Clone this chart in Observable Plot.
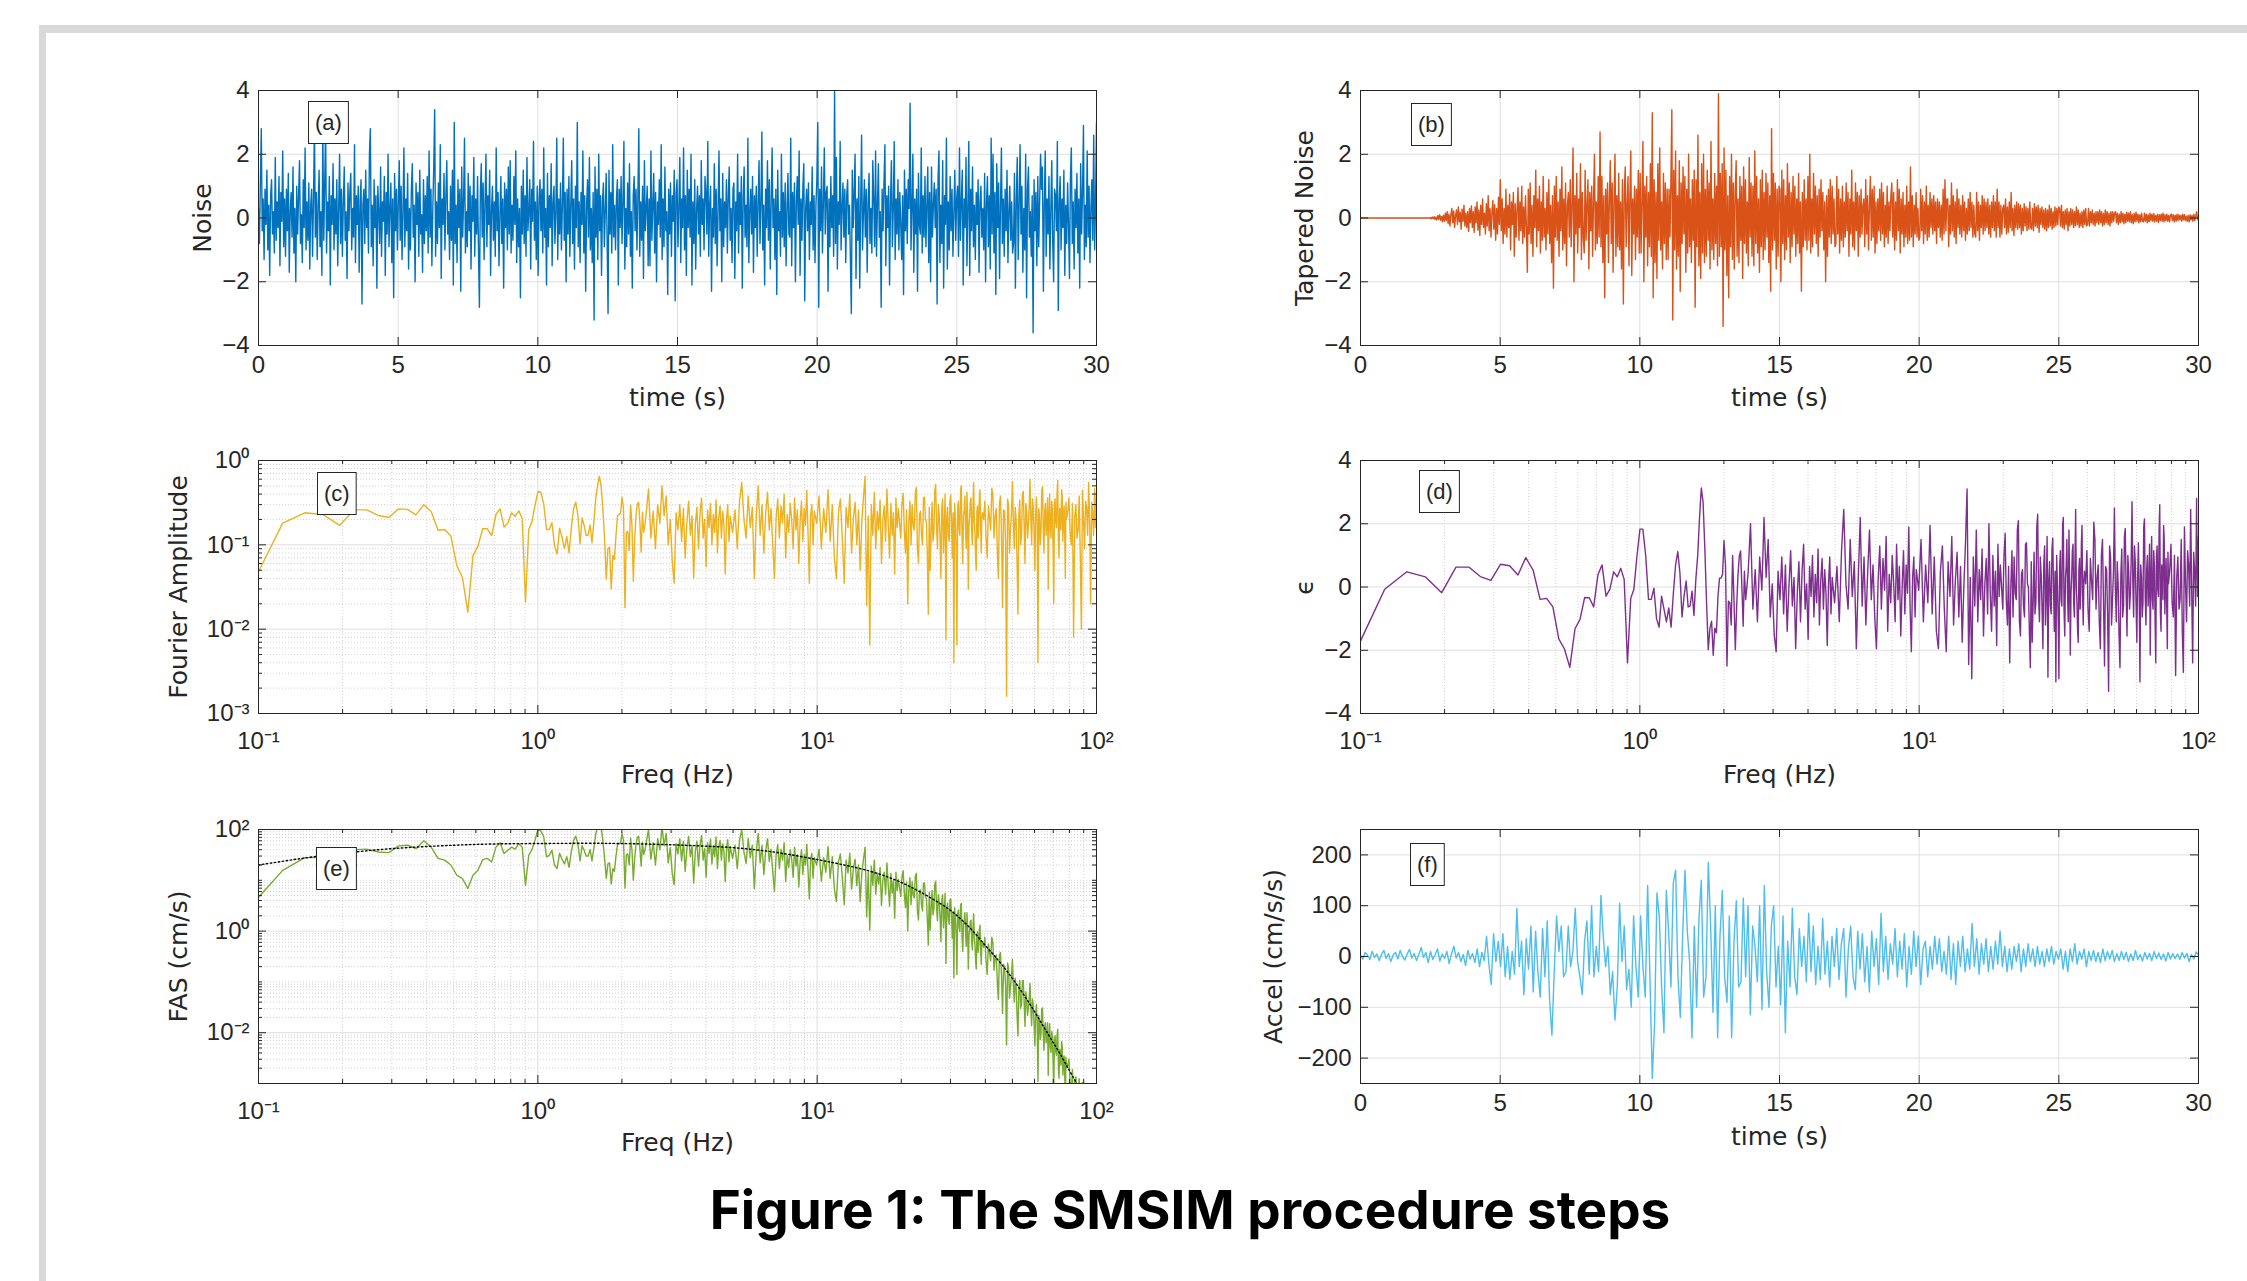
<!DOCTYPE html>
<html><head><meta charset="utf-8">
<script src="https://cdn.jsdelivr.net/npm/d3@7"></script>
<script src="https://cdn.jsdelivr.net/npm/@observablehq/plot@0.6"></script>
<style>
html,body{margin:0;padding:0;background:#fff}
body{width:2247px;height:1281px;overflow:hidden;position:relative;font-family:"Liberation Sans",Arial,sans-serif}
#border{position:absolute;left:39px;top:25px;width:2400px;height:1400px;border-top:8px solid #d9d9d9;border-left:7px solid #d9d9d9;box-sizing:border-box}
.panel{position:absolute}
#title{position:absolute;left:0;width:2380px;top:1184px;text-align:center;font-family:Inter,"Noto Sans",sans-serif;font-weight:700;font-size:53px;line-height:53px;color:#000;white-space:nowrap}
</style></head><body>
<div id="border"></div>
<div id="pa" class="panel"></div><div id="pb" class="panel"></div>
<div id="pc" class="panel"></div><div id="pd" class="panel"></div>
<div id="pe" class="panel"></div><div id="pf" class="panel"></div>
<div id="title">Figure 1: The SMSIM procedure steps</div>
<script>
// ---------------- DATA ----------------
const TIME_TICKS = [0,5,10,15,20,25,30];
const NOISE_TICKS = [-4,-2,0,2,4];
const FREQ_TICKS = [0.1,1,10,100];
const FAS_C_TICKS = [0.001,0.01,0.1,1];
const EPS_TICKS = [-4,-2,0,2,4];
const FAS_E_TICKS = [0.01,1,100];
const ACC_TICKS = [-200,-100,0,100,200];

// (a) white noise, 30 s (one row per second)
const NOISE = [
0.3,-0.8,1.1,2.8,-0.4,0.6,-1.3,0.9,-0.2,1.5,-1.0,0.4,-1.8,0.7,1.2,-0.5,0.2,-1.1,1.9,-0.7,0.5,-0.3,1.3,-1.5,0.8,-0.1,2.1,-0.9,0.6,-1.2,
0.9,-0.4,1.4,-1.7,0.2,0.8,-0.6,1.6,-1.1,0.3,-2.0,1.0,-0.5,0.7,1.8,-0.8,0.1,-1.4,1.2,-0.3,2.2,-1.0,0.5,-0.7,1.1,-1.6,0.4,0.9,-1.2,0.6,
2.9,-0.6,0.8,-1.3,0.4,1.5,-0.9,0.2,-1.8,2.9,-0.7,1.0,2.8,-1.1,0.5,-0.4,1.3,-2.1,0.7,-0.2,1.7,-1.0,0.6,-0.5,1.2,-1.5,0.3,2.0,-0.8,0.9,
-1.2,0.5,1.6,-0.7,0.2,-1.9,1.1,-0.4,0.8,1.4,-1.0,0.3,-0.6,2.3,-1.4,0.7,-0.2,1.0,-1.7,0.5,1.2,-2.7,0.4,0.9,-0.8,1.5,-0.3,0.6,-1.1,2.0,
2.8,-0.9,0.4,-1.5,1.2,-0.3,0.7,-2.2,1.0,0.2,-0.8,1.6,-1.2,0.5,-0.1,1.3,-1.8,0.8,-0.5,2.0,-0.9,0.3,1.1,-1.4,0.6,-2.5,1.4,-0.4,0.9,-1.0,
0.5,1.8,-0.7,1.0,-1.3,0.2,2.2,-0.9,0.6,-0.4,1.4,-1.6,0.3,-1.0,0.9,1.7,-0.6,0.4,-2.0,1.1,-0.2,0.8,-1.2,1.5,-0.5,0.1,-1.7,1.2,-0.8,0.7,
-0.4,1.3,-1.1,2.1,-0.6,0.9,-1.5,0.3,1.6,3.4,-1.2,0.5,-0.8,1.1,-0.3,2.3,-1.9,0.6,-0.2,1.4,-1.0,0.7,1.8,-0.5,0.2,-1.3,1.0,-0.7,1.5,-2.1,
3.0,-0.8,0.4,-1.4,1.2,-0.3,0.9,-2.3,1.6,-0.6,0.5,2.5,-1.1,0.2,-0.9,1.4,-0.4,1.0,-1.6,0.7,-0.1,1.9,-1.2,0.6,-0.5,1.3,-1.0,-2.8,0.8,1.7,
-0.6,1.1,-1.3,0.4,2.0,-0.9,0.7,-0.2,1.5,-1.8,0.3,1.0,-0.7,0.5,-1.2,2.2,-0.4,0.8,-1.5,0.1,1.3,-0.8,0.6,-2.2,1.1,-0.3,0.9,-1.0,1.6,-0.5,
1.8,-1.1,0.4,-0.7,1.3,-0.2,2.1,-1.4,0.6,-0.9,0.3,-2.5,1.0,-0.5,1.5,-0.8,0.7,-1.2,1.9,-0.4,0.2,1.2,-1.6,0.9,-0.1,2.4,-0.7,0.5,-1.3,1.0,
-1.8,0.6,1.2,-0.4,0.9,-1.1,2.2,-0.6,0.3,-2.1,1.4,-0.9,0.7,-0.3,1.7,-1.5,0.5,1.0,-0.8,0.2,2.5,-1.3,0.6,-0.5,1.1,-1.0,0.4,2.5,-0.7,0.8,
-2.0,0.9,-0.5,1.3,-1.2,0.4,1.8,-0.8,0.6,-1.6,1.0,-0.3,3.0,-0.9,0.5,-1.4,0.8,-0.2,2.1,-1.1,0.7,-2.3,0.4,1.2,-0.6,1.9,-1.0,0.3,-1.4,0.8,
-3.2,1.6,-0.6,0.9,-1.3,2.0,-0.4,0.7,-1.8,0.5,1.1,-0.9,0.2,1.4,-0.7,-3.0,1.5,-0.5,0.8,-1.1,2.3,-0.6,0.4,-1.0,0.6,1.2,-2.1,0.9,-0.3,1.3,
-0.8,0.5,2.4,-1.6,0.3,-0.9,1.1,-0.5,1.7,-1.2,0.2,-2.2,0.7,1.3,-0.4,0.9,-1.0,0.6,2.8,-1.2,0.5,-0.7,1.0,-1.9,1.8,-0.4,0.3,1.0,-1.5,0.6,
-1.5,2.1,-0.7,0.4,1.4,-1.1,0.8,-2.0,0.5,-0.2,1.2,-0.6,2.3,-1.3,0.6,-0.9,1.6,-0.4,0.2,-2.4,0.9,-0.5,1.1,-1.2,0.7,-0.1,1.5,-2.6,0.8,1.2,
-0.9,0.4,1.9,-1.4,0.6,-0.3,2.2,-1.0,0.7,-1.8,1.5,-0.3,0.9,-0.6,2.0,-2.1,0.5,-0.8,1.2,-1.6,0.3,1.0,-0.5,0.7,-1.2,1.8,-0.2,0.6,-1.0,1.3,
0.8,-0.5,2.4,-1.2,0.4,1.0,-2.3,0.3,-0.6,1.7,-0.8,0.9,-1.5,0.2,2.1,-0.4,0.6,-2.0,1.4,-0.9,0.5,-0.3,1.2,-1.1,0.7,1.6,-0.7,0.3,-1.4,0.9,
1.1,-1.9,0.5,-0.4,2.0,-1.1,0.8,-0.2,1.3,-2.2,0.6,1.6,-0.6,0.4,-0.9,2.5,-1.4,0.2,0.9,-0.5,1.3,-1.7,0.7,-0.3,1.0,-1.2,0.5,1.8,-0.8,0.4,
2.7,-1.0,0.4,-2.1,0.9,-0.3,1.8,-0.7,1.2,-1.6,0.5,2.2,-0.3,0.6,-1.3,0.9,-2.4,1.5,-0.4,0.2,-1.2,2.0,-0.6,0.8,-0.9,1.1,-1.5,0.3,1.4,-0.5,
-0.6,2.5,-1.5,0.8,-0.3,1.1,-2.0,0.5,1.3,-0.2,2.1,-1.8,0.6,-0.7,1.0,1.7,-2.6,0.3,0.9,-0.4,1.1,-1.3,0.5,-0.2,1.6,-1.0,0.7,-1.4,0.4,1.2,
3.0,-2.8,0.9,-0.4,1.6,-1.1,0.5,2.2,-0.5,0.8,1.0,-2.3,0.6,-0.9,1.3,-0.3,0.7,-1.2,4.0,-0.8,1.9,-1.6,0.5,-0.2,2.4,-1.0,0.3,1.1,-0.6,0.9,
-1.4,0.7,1.2,-0.5,0.4,-1.3,-3.0,1.5,-0.3,0.8,2.0,-1.9,0.6,-0.7,1.3,-2.2,0.4,2.6,-1.0,0.2,1.2,-0.6,0.9,-1.7,0.5,1.4,-0.8,0.3,-1.1,1.8,
0.6,-0.9,2.1,-1.2,0.4,1.7,-0.6,0.2,-2.8,0.9,-0.4,1.1,2.3,-1.5,0.7,-0.3,1.0,-2.1,0.5,1.8,-0.9,0.3,2.4,-1.3,0.6,-0.5,1.2,-1.0,0.8,-0.2,
-1.3,0.7,-2.4,1.5,-0.4,0.9,-0.8,1.2,0.3,3.6,-1.0,0.3,2.0,-1.7,0.6,-0.5,0.9,-2.3,1.4,-0.2,-0.5,2.2,-1.1,0.7,-0.6,1.3,-0.9,0.4,1.6,-1.4,
0.8,-2.0,1.6,-0.6,0.4,1.1,-0.3,0.9,-2.7,1.2,2.1,-1.4,0.4,-0.8,1.8,-2.2,0.7,-0.2,2.5,-1.6,0.5,-1.0,1.3,-0.4,0.9,-1.2,0.2,1.5,-0.7,0.6,
1.0,-1.2,2.2,-0.7,0.5,1.5,-2.1,0.6,-0.3,1.9,-1.5,0.3,2.4,-1.8,0.9,-0.4,1.6,-0.9,0.4,-1.3,0.8,-0.2,1.2,-1.7,0.5,1.0,-0.6,0.3,-1.0,1.4,
-2.0,0.5,1.3,-0.9,0.7,-1.6,2.5,-0.5,2.0,-1.1,0.8,-2.4,1.7,-0.3,1.1,-1.9,0.4,2.2,-0.8,0.6,-1.2,0.9,-0.4,1.5,-1.4,0.2,1.0,-0.7,0.5,-1.1,
-0.8,1.4,-2.2,0.6,1.9,-1.3,0.4,2.3,-0.5,1.0,-1.7,0.3,-1.0,2.0,-2.5,0.9,1.6,-0.6,0.2,-1.2,0.7,-3.6,1.2,-0.4,0.8,-1.5,1.3,-0.9,0.5,2.0,
0.9,1.6,-2.3,0.4,2.1,-1.2,0.6,-0.5,1.3,-1.6,0.2,1.8,-0.7,-2.0,0.9,0.7,-0.4,2.4,-2.9,0.5,1.3,-1.0,0.6,-0.3,1.5,-1.8,0.4,-0.8,1.1,-0.2,
-1.9,1.2,2.2,-0.8,0.5,-1.6,0.9,-0.3,1.4,-1.1,0.6,-2.2,1.7,-0.5,0.8,2.9,-1.3,0.4,-0.9,2.1,-0.6,1.0,-1.4,0.3,1.2,-0.7,2.6,-1.0,0.5,3.0];

// (b) tapered noise, 30 s (one row per second)
const TAPERED = [
0,0,0,0,0,0,0,0,0,0,0,0,0,0,0,0,0,0,0,0,0,0,0,0,0,0,0,0,0,0,
0,0,0,0,0,0,0,0,0,0,0,0,0,0,0,0,0,0,0,0,0,0,0,0,0,0,0,0,0,0,
0,0,0,0,0,0,0,0,0,0,0,0,0,0,0,0.01,-0.02,0.03,-0.02,0.04,-0.05,0.03,-0.06,0.08,-0.04,0.1,-0.07,0.05,-0.12,0.09,
-0.1,0.15,-0.08,0.2,-0.18,0.12,-0.25,0.1,0.3,-0.15,0.22,-0.3,0.08,0.25,-0.2,0.35,-0.12,0.18,-0.35,0.28,-0.1,0.4,-0.25,0.15,-0.3,0.2,-0.42,0.3,-0.15,0.38,
-0.3,0.2,-0.45,0.35,-0.15,0.5,-0.38,0.25,-0.55,0.4,-0.2,0.6,-0.3,0.15,-0.5,0.45,-0.25,0.7,-0.4,0.3,-0.6,0.2,0.55,-0.35,0.42,-0.7,0.3,-0.5,0.65,-0.2,
1.2,-0.4,0.6,-0.8,0.3,-0.5,0.9,-0.6,0.4,-0.3,0.75,-1.0,0.5,-0.2,0.8,-1.2,0.45,-0.6,0.3,0.95,-0.7,0.5,-0.4,1.0,-0.8,0.35,-0.6,0.7,-0.3,-1.7,
0.9,-0.5,1.1,-0.8,0.4,-1.2,0.7,-0.3,1.5,-0.9,0.6,-0.4,1.0,-1.1,0.5,-0.7,1.3,-0.6,0.3,-1.0,0.8,-0.5,1.2,-0.8,0.4,-1.4,0.7,-2.2,1.0,-0.6,
1.3,-0.7,0.5,-1.2,0.9,-0.4,1.6,-1.0,0.6,-0.8,1.1,-1.5,0.4,0.8,-0.6,1.2,-0.9,0.5,2.2,-2.0,0.7,-0.5,1.4,-1.1,0.6,-0.3,1.7,-1.3,0.8,-0.6,
-1.1,1.5,-0.7,0.4,1.2,-1.6,0.8,-0.4,1.0,-1.2,0.6,2.0,-1.0,0.5,-0.8,1.3,-0.6,2.7,-0.9,1.3,-1.4,0.7,-2.5,0.9,-0.5,1.1,-1.4,0.6,1.8,-0.8,
1.1,-1.7,0.6,2.0,-1.2,0.7,-0.9,1.4,-1.0,0.5,-1.6,1.2,-2.7,0.8,1.6,-0.9,0.4,1.3,-1.5,0.7,2.1,-1.8,0.6,-0.5,1.0,-1.3,0.9,-0.6,1.5,-1.1,
1.4,-1.1,0.6,2.4,-2.0,1.0,-0.6,1.3,-1.5,0.8,-0.9,1.7,-1.2,3.3,-2.5,1.2,-1.4,0.8,-1.9,1.7,-0.7,2.2,-1.0,0.5,-1.6,1.4,-0.8,1.1,-1.3,0.9,
-1.3,0.9,-0.6,1.2,3.4,-3.2,1.5,-1.0,2.1,-1.6,0.7,-1.2,1.8,-2.3,1.1,-0.8,1.6,-0.5,1.3,-1.7,0.9,-1.1,2.0,-0.9,0.6,-1.4,1.2,-0.7,1.5,-2.8,
1.2,-0.9,2.6,-1.5,0.8,-1.9,1.7,-1.1,2.0,-1.4,0.9,-1.2,1.5,-0.7,1.1,-1.6,2.4,-1.0,0.6,-1.3,1.4,-0.8,1.0,-1.5,3.9,-1.2,1.4,-0.9,1.7,-3.4,
2.2,-1.0,1.5,-1.8,0.7,-2.5,1.3,-0.9,2.0,-1.3,1.1,-1.6,0.8,1.8,-1.2,0.6,-1.4,1.3,-0.7,1.0,-1.9,1.6,-0.8,1.2,-1.1,0.5,-1.5,1.9,-0.6,1.1,
-1.2,1.0,-1.5,2.1,-0.8,1.3,-1.1,0.6,-1.7,1.2,-0.9,1.5,-1.3,0.8,-1.0,1.4,-0.6,1.1,-1.4,0.7,-2.3,2.8,-1.0,1.4,-0.7,1.1,-1.6,0.9,-1.2,1.0,
0.9,-2.0,1.5,-0.8,1.2,-1.3,0.7,-1.0,1.7,-0.6,1.1,-1.4,0.8,-0.9,1.3,-0.5,1.0,-1.2,0.6,-0.8,1.4,-1.1,0.5,-2.3,0.8,-0.9,1.2,-0.7,0.6,-1.0,
1.3,-0.7,2.0,-1.1,0.6,-0.9,1.4,-0.5,1.0,-0.8,0.7,-1.2,0.9,-0.6,1.2,-0.4,0.8,-1.0,0.5,-2.0,0.7,-1.2,0.9,-0.6,1.2,-0.8,1.0,-0.5,0.6,-0.9,
-0.8,1.3,-0.5,0.9,-1.1,0.6,-0.7,1.0,-0.9,0.5,-0.6,1.1,-0.4,0.8,-1.2,0.6,-0.5,1.5,-0.9,0.5,-1.0,1.1,-0.4,0.8,-1.2,0.7,-0.6,0.9,-0.5,0.4,
0.6,-0.9,1.2,-0.5,0.7,-1.0,0.4,1.3,-0.7,0.9,-0.6,1.0,-1.1,0.5,-0.8,0.6,-0.4,0.9,-0.7,1.1,-0.5,0.8,-0.9,0.4,-0.6,1.0,-0.8,0.5,-0.4,0.7,
1.1,-0.6,0.8,-1.0,0.5,-0.7,1.2,-0.4,0.9,-1.1,0.6,-0.5,0.8,-0.9,0.4,-0.6,1.0,-0.8,0.5,-0.7,1.6,-0.6,0.7,-0.9,0.4,-0.5,0.8,-0.6,0.3,-0.7,
-0.6,0.9,-0.4,0.7,-0.8,0.5,-0.5,1.0,-0.7,0.4,-0.6,0.8,-0.3,0.6,-0.5,0.7,-0.4,0.5,-0.8,0.6,-0.3,0.5,-0.6,0.4,-0.7,0.9,-0.5,1.2,-0.4,0.6,
0.6,-0.9,0.4,-0.5,1.1,-0.4,0.7,-0.6,0.5,-0.8,0.9,-0.3,0.6,-0.5,0.4,-0.6,0.7,-0.4,0.5,-0.7,0.3,-0.5,0.6,-0.4,0.8,-0.3,0.5,-0.6,0.4,-0.5,
-0.6,0.8,-0.4,0.5,-0.7,0.4,-0.3,0.7,-0.5,0.6,-0.4,0.5,-0.3,0.6,-0.5,0.4,-0.6,0.5,-0.3,0.7,-0.4,0.5,-0.6,0.9,-0.3,0.5,-0.6,0.4,-0.5,0.3,
0.4,-0.3,0.6,-0.5,0.35,-0.45,0.5,-0.3,0.8,-0.4,0.3,-0.55,0.4,-0.3,0.5,-0.35,0.45,-0.3,0.4,-0.5,0.3,-0.4,0.45,-0.25,0.35,-0.4,0.3,-0.35,0.5,-0.3,
-0.35,0.3,-0.4,0.45,-0.25,0.35,-0.3,0.4,-0.45,0.3,-0.2,0.35,-0.3,0.25,-0.35,0.3,-0.4,0.25,-0.3,0.4,-0.25,0.3,-0.35,0.2,-0.3,0.35,-0.25,0.3,-0.2,0.35,
0.3,-0.25,0.4,-0.3,0.2,-0.35,0.25,-0.2,0.3,-0.4,0.2,-0.25,0.3,-0.2,0.25,-0.3,0.2,-0.25,0.35,-0.2,0.25,-0.3,0.15,-0.25,0.2,-0.3,0.25,-0.2,0.3,-0.25,
-0.2,0.3,-0.25,0.2,-0.15,0.25,-0.2,0.15,-0.25,0.2,-0.15,0.2,-0.2,0.25,-0.15,0.2,-0.25,0.15,-0.2,0.25,-0.15,0.2,-0.2,0.15,-0.25,0.2,-0.15,0.2,-0.1,0.15,
0.2,-0.15,0.15,-0.2,0.12,-0.15,0.2,-0.12,0.15,-0.18,0.12,-0.15,0.18,-0.1,0.15,-0.12,0.2,-0.15,0.1,-0.18,0.15,-0.12,0.18,-0.1,0.12,-0.15,0.1,-0.12,0.15,-0.1,
-0.12,0.15,-0.1,0.12,-0.15,0.1,-0.12,0.15,-0.08,0.12,-0.1,0.14,-0.12,0.08,-0.1,0.12,-0.14,0.1,-0.08,0.12,-0.1,0.15,-0.12,0.1,-0.08,0.12,-0.1,0.08,-0.12,0.1,
0.12,-0.08,0.1,-0.12,0.08,-0.1,0.12,-0.08,0.1,-0.06,0.08,-0.1,0.12,-0.06,0.1,-0.08,0.06,-0.1,0.08,-0.12,0.1,-0.06,0.08,-0.1,0.12,-0.08,0.06,0.2,-0.05,0.05];

// FFT bin spacing (Hz) and the frequency bins plotted: [first k, last k, step]
const DF = 0.024414;
const K_SEGMENTS = [[4,100,1],[102,200,2],[204,400,4],[408,800,8],[816,1600,8],[1616,3200,16],[3232,4096,32]];

// (c) Fourier amplitude of tapered noise
const FAS_C = [
0.041,0.181,0.24,0.227,0.17,0.26,0.26,0.223,0.211,0.267,
0.263,0.227,0.298,0.248,0.149,0.152,0.127,0.057,0.041,0.0159,
0.075,0.096,0.155,0.155,0.129,0.229,0.267,0.162,0.181,0.24,
0.217,0.253,0.207,0.021,0.152,0.186,0.292,0.429,0.42,0.306,
0.152,0.152,0.183,0.098,0.078,0.158,0.123,0.09,0.125,0.08,
0.162,0.267,0.32,0.223,0.103,0.209,0.17,0.129,0.13,0.172,
0.106,0.186,0.35,0.5,0.652,0.5,0.267,0.118,0.039,0.09,
0.094,0.03,0.075,0.067,0.129,0.223,0.227,0.24,0.367,0.267,
0.018,0.141,0.144,0.086,0.298,0.17,0.037,0.118,0.223,0.306,
0.32,0.186,0.082,0.244,0.141,0.17,0.23,
0.46,0.12,0.25,0.09,0.3,0.18,0.5,0.22,0.38,0.1,0.2,0.065,0.035,0.24,0.15,0.3,0.11,0.27,0.07,0.19,
0.33,0.13,0.22,0.04,0.17,0.28,0.09,0.24,0.36,0.12,0.2,0.055,0.26,0.16,0.31,0.1,0.23,0.14,0.34,0.08,
0.21,0.29,0.12,0.25,0.17,0.045,0.2,0.3,0.11,0.22,
0.14,0.26,0.09,0.33,0.55,0.2,0.12,0.38,0.16,0.28,0.04,0.22,0.5,0.13,0.3,0.08,0.24,0.42,0.15,0.27,
0.1,0.04,0.21,0.35,0.12,0.29,0.18,0.4,0.07,0.23,0.14,0.31,0.2,0.09,0.36,0.15,0.26,0.06,0.19,0.33,
0.11,0.27,0.17,0.44,0.13,0.035,0.22,0.3,0.1,0.25,
0.18,0.38,0.09,0.27,0.14,0.45,0.11,0.3,0.07,0.04,0.24,0.35,0.12,0.035,0.28,0.16,0.4,0.08,0.21,0.32,
0.1,0.26,0.05,0.19,0.37,0.65,0.019,0.22,0.0065,0.3,0.13,0.42,0.09,0.25,0.15,0.34,0.06,0.2,0.29,0.11,
0.46,0.17,0.07,0.31,0.13,0.24,0.045,0.36,0.16,0.27,
0.12,0.3,0.41,0.15,0.08,0.26,0.02,0.19,0.33,0.1,0.3,0.17,0.15,0.42,0.48,0.09,0.06,0.23,0.25,0.13,
0.1,0.36,0.37,0.2,0.19,0.07,0.015,0.28,0.05,0.14,0.32,0.11,0.14,0.44,0.52,0.16,0.09,0.3,0.23,0.12,
0.04,0.27,0.35,0.08,0.17,0.4,0.0075,0.21,0.28,0.13,0.11,0.34,0.39,0.18,0.07,0.24,0.004,0.31,0.2,0.1,
0.0065,0.26,0.33,0.15,0.13,0.45,0.5,0.12,0.06,0.22,0.26,0.38,0.16,0.09,0.42,0.2,0.03,0.17,0.22,0.33,
0.36,0.14,0.1,0.29,0.55,0.19,0.14,0.07,0.05,0.25,0.29,0.12,0.18,0.37,0.45,0.16,0.08,0.21,0.24,
0.2,0.33,0.12,0.07,0.29,0.21,0.15,0.47,0.38,0.12,0.22,0.27,0.09,0.04,0.31,0.38,0.14,0.018,0.26,0.25,
0.11,0.0016,0.35,0.3,0.08,0.15,0.24,0.56,0.19,0.09,0.28,0.2,0.06,0.015,0.23,0.34,0.1,0.13,0.4,0.43,
0.17,0.06,0.31,0.24,0.12,0.17,0.29,0.6,0.2,0.1,0.35,0.28,0.14,0.05,0.22,0.37,0.18,0.004,0.27,0.22,
0.1,0.14,0.44,0.49,0.16,0.08,0.25,0.31,0.13,0.19,0.36,0.03,0.22,0.4,0.15,0.12,0.33,0.26,0.09,0.02,
0.3,0.35,0.18,0.16,0.42,0.58,0.11,0.07,0.27,0.23,0.15,0.45,0.38,0.11,0.2,0.29,0.13,0.04,0.32,0.2,
0.25,0.36,0.14,0.1,0.31,0.008,0.22,0.3,0.12,0.15,0.38,0.07,0.01,0.44,0.2,0.09,0.33,0.27,0.13,0.55,
0.18,0.02,0.32,0.24,0.13,0.47,0.16,0.4];

// (d) normalized noise spectrum epsilon
const EPS_D = [
-1.9,-0.07,0.48,0.32,-0.18,0.63,0.63,0.33,0.21,0.72,
0.67,0.38,0.93,0.53,-0.39,-0.36,-0.63,-1.64,-1.96,-2.54,
-1.32,-1.03,-0.33,-0.34,-0.63,0.39,0.70,-0.29,-0.07,0.48,
0.32,0.59,0.24,-2.4,-0.36,-0.07,0.98,1.83,1.83,0.98,
-0.39,-0.39,-0.04,-1.0,-1.27,-0.29,-0.71,-1.1,-0.66,-1.27,
-0.2,0.7,1.12,0.45,-0.95,-0.28,0.19,-0.63,-0.6,-0.13,
-0.9,0.25,1.0,2.2,3.13,2.68,1.2,-0.5,-1.98,-1.3,
-1.08,-2.16,-1.3,-1.45,-0.3,0.28,0.28,0.4,1.47,0.67,
-2.5,-0.45,-0.5,-1.2,1.0,-0.4,-1.98,-0.6,0.4,0.98,
1.14,0.0,-1.24,0.5,-0.4,0.0,0.45,
2.0,-0.7,0.55,-1.1,0.95,-0.1,2.2,0.3,1.5,-0.95,0.1,-1.5,-2.05,0.5,-0.4,0.95,-0.85,0.7,-1.4,0.0,
1.15,-0.6,0.3,-1.95,-0.2,0.8,-1.1,0.5,1.35,-0.7,0.1,-1.65,0.65,-0.3,1.0,-0.95,0.4,-0.5,1.2,-1.2,
0.2,0.9,-0.7,0.55,-0.2,-1.85,0.1,0.95,-0.85,0.3,
-0.5,0.65,-1.1,1.15,2.45,0.1,-0.7,1.5,-0.3,0.8,-1.95,0.3,2.2,-0.6,0.95,-1.2,0.5,1.8,-0.4,0.7,
-0.95,-1.95,0.2,1.3,-0.7,0.9,-0.1,1.6,-1.4,0.4,-0.5,1.0,0.1,-1.1,1.35,-0.4,0.65,-1.55,0.0,1.15,
-0.85,0.7,-0.2,1.9,-0.6,-2.05,0.3,0.95,-0.95,0.55,
-0.1,1.5,-1.1,0.7,-0.5,1.95,-0.85,0.95,-1.4,-1.95,0.5,1.3,-0.7,-2.05,0.8,-0.3,1.6,-1.2,0.2,1.1,
-0.95,0.65,-1.75,0.0,1.4,3.1,-2.45,0.3,-2.9,0.95,-0.6,1.8,-1.1,0.55,-0.4,1.2,-1.55,0.1,0.9,-0.85,
2.0,-0.2,-1.4,1.0,-0.6,0.5,-1.85,1.35,-0.3,0.7,
-0.7,0.95,1.7,-0.4,-1.2,0.65,-2.4,0.0,1.15,-0.95,0.95,-0.2,-0.4,1.8,2.1,-1.1,-1.55,0.4,0.55,-0.6,
-0.95,1.35,1.4,0.1,0.0,-1.4,-2.55,0.8,-1.75,-0.5,1.1,-0.85,-0.5,1.9,2.3,-0.3,-1.1,0.95,0.4,-0.7,
-1.95,0.7,1.3,-1.2,-0.2,1.6,-2.85,0.2,0.8,-0.6,-0.85,1.2,1.55,-0.1,-1.4,0.5,-3.0,1.0,0.1,-0.95,
-2.9,0.65,1.15,-0.4,-0.6,1.95,2.2,-0.7,-1.55,0.3,0.65,1.5,-0.3,-1.1,1.8,0.1,-2.15,-0.2,0.3,1.15,
1.35,-0.5,-0.95,0.9,2.45,0.0,-0.5,-1.4,-1.75,0.55,0.9,-0.7,-0.1,1.4,1.95,-0.3,-1.2,0.2,0.5,
0.1,1.15,-0.7,-1.4,0.9,0.2,-0.4,2.05,1.5,-0.7,0.3,0.7,-1.1,-1.95,1.0,1.5,-0.5,-2.5,0.65,0.55,
-0.85,-3.3,1.3,0.95,-1.2,-0.4,0.5,2.5,0.0,-1.1,0.8,0.1,-1.55,-2.55,0.4,1.2,-0.95,-0.6,1.6,1.85,
-0.2,-1.55,1.0,0.5,-0.7,-0.2,0.9,2.7,0.1,-0.95,1.3,0.8,-0.5,-1.75,0.3,1.4,-0.1,-3.0,0.7,0.3,
-0.95,-0.5,1.9,2.15,-0.3,-1.2,0.55,1.0,-0.6,0.0,1.35,-2.15,0.3,1.6,-0.4,-0.7,1.15,0.65,-1.1,-2.4,
0.95,1.3,-0.1,-0.3,1.8,2.6,-0.85,-1.4,0.7,0.4,-0.4,1.95,1.5,-0.85,0.1,0.9,-0.6,-1.95,1.1,0.1,
0.55,1.35,-0.5,-0.95,1.0,-2.8,0.3,0.95,-0.7,-0.4,1.5,-1.4,-2.7,1.9,0.1,-1.1,1.15,0.7,-0.6,2.45,
-0.1,-2.4,1.1,0.5,-0.6,2.8,-0.3,1.6];

// (e) Fourier amplitude spectrum of simulated motion (cm/s)
const FAS_E = [
4.0,15.7,28,28,24,40,41,36,35,47.5,
49,42,60,45,27,25,20,12.6,10.8,6.9,
12.6,15.8,25.5,27,23,45,55,33.6,39,45,
41,53,45,8,31,40,61,100,94,72,
29,31,39,20,17,34,26,21,29,18,
37,61,74,51,24,48,39,30,30,40,
24,43,80,115,150,115,61,27,11,21,
22,8.5,17,15,30,51,52,55,84,61,
7,32,33,20,68,39,10,27,51,70,
74,43,19,56,32,39,53,
100,26,55,20,66,40,110,48,84,22,44,14,8.2,53,33,66,24,59,15,42,
73,29,48,8.8,37,59,19,50,76,25,42,11.5,55,34,65,21,48,29,71,17,
44,61,25,52,36,9.4,42,63,23,46,
27,49,17,61,100,36,21.5,67,28,49,6.9,37,84,22,49,13,38,66,23.5,41,
15,6,31,51,17,41,25,55,9.5,31,18,40,26,11.4,45,19,32,7.4,23,40,
13,32,20,51,15,4.3,25,34,11,28,
20,41,9.6,28,14.4,46,11,29,6.8,3.8,23,33,11,3.3,25,14,34,6.7,17,26,
7.8,20,3.8,14,26,45,1.9,14.5,1.05,19,8,25,5.3,14,8.4,18,3.2,10,14.5,5.3,
22,7.8,3.1,13.6,5.6,10,1.8,14.4,6.3,10.5,
4.75,11.6,15.5,5.6,2.9,9.3,1.0,6.6,11.2,3.3,9.4,5.2,4.5,12.3,13.7,2.5,1.65,6.1,6.5,3.3,
2.5,8.8,8.9,4.7,4.4,1.6,0.53,5.9,1.05,2.85,6.3,2.1,2.7,8.3,9.6,2.9,1.6,5.2,3.9,1.9,
0.62,4.1,5.2,1.16,2.4,5.6,0.23,2.7,3.6,1.65,1.36,4.1,4.3,1.9,0.73,2.4,0.12,2.9,1.84,0.89,
0.14,2.2,2.6,1.17,0.98,3.3,3.5,0.82,0.4,1.4,1.6,2.3,0.93,0.5,2.3,1.06,0.18,0.85,1.06,1.55,
1.64,0.62,0.43,1.2,2.2,0.74,0.53,0.26,0.18,0.85,0.96,0.38,0.56,1.1,1.3,0.45,0.22,0.56,0.62,
0.48,0.75,0.26,0.14,0.56,0.38,0.26,0.76,0.58,0.17,0.3,0.34,0.108,0.045,0.33,0.38,0.133,0.024,0.22,0.2,
0.083,0.0057,0.235,0.19,0.048,0.084,0.127,0.28,0.09,0.04,0.118,0.079,0.022,0.0086,0.076,0.107,0.03,0.036,0.105,0.107,
0.04,0.0133,0.064,0.047,0.022,0.03,0.048,0.093,0.029,0.0138,0.046,0.034,0.016,0.0055,0.0227,0.036,0.0166,0.0011,0.022,0.017,
0.0073,0.0097,0.029,0.0307,0.0095,0.0045,0.0134,0.0158,0.0063,0.0087,0.0157,0.00145,0.0087,0.015,0.0053,0.0041,0.0106,0.0079,0.0026,0.00077,
0.0078,0.0087,0.0042,0.0036,0.0089,0.0117,0.0021,0.00127,0.0047,0.0038,0.0023,0.0067,0.0054,0.00147,0.0025,0.0035,0.0015,0.00044,0.0033,0.002,
0.0023,0.003,0.00105,0.00068,0.0019,0.0001,0.0011,0.00135,0.00049,0.00056,0.00125,0.00021,0.000054,0.00106,0.00044,0.00018,0.0006,0.00043,0.00019,0.00073,
0.00021,0.000028,0.00031,0.00021,0.0001,0.00033,0.0001,0.00023];

// (e) target (model) spectrum, dotted
const MODEL_F = [0.1,0.15,0.2,0.3,0.5,0.7,1,1.5,2,3,4,5,6,7,8,10,12,15,18,21,25,30,35,40,45,50,55,60,65,70,75,80,85,90,100];
const MODEL_V = [20,28,34,42,49,52,53,53.5,53,50,47,44,40,36,32,25.6,21,15.8,11.5,8,4.8,2.56,1.2,0.52,0.247,0.117,0.055,0.026,0.0125,0.0064,0.0034,0.0018,0.001,0.00055,0.00017];

// (f) simulated acceleration (cm/s/s), one row per second
const ACCEL = [
2,-5,8,3,-6,10,-2,5,-8,4,12,-4,
6,-10,3,8,-5,12,0,-7,5,14,-3,6,
-8,4,18,-2,8,-12,10,-6,4,15,-9,5,
-4,10,-14,6,20,-3,8,-10,4,-18,12,-5,
6,-12,15,-20,8,-8,40,-15,-55,45,-10,30,
-20,45,-40,20,-45,10,-35,95,-20,30,-75,35,
-25,60,-70,50,-30,-80,55,-40,70,-85,-155,-30,
80,10,60,-40,-30,60,-20,10,95,-10,-40,-75,
30,70,-35,100,-40,20,-30,120,40,-20,20,-75,
-30,-125,-60,105,-10,60,-65,-25,-100,80,-20,-80,
80,-20,-80,140,-40,-240,-130,125,80,-60,-150,130,
50,-60,145,170,-40,-120,40,170,50,-10,-160,60,
-100,75,150,-80,-40,185,60,-110,100,-160,40,130,
-40,-90,80,-160,30,110,-60,-50,115,-40,100,-115,
60,20,-50,100,-105,140,-30,-100,60,100,-60,20,
-95,80,-150,30,-60,95,-40,-75,55,-20,40,-50,
85,-30,60,-55,20,-45,75,-35,30,-60,40,-20,
55,-45,25,55,-80,15,60,-40,-65,50,-25,45,
-50,20,-70,50,-20,35,-55,85,-30,40,-45,25,
-15,55,-40,30,-25,45,-60,20,-35,50,-20,40,
-55,15,30,-40,20,-25,40,-15,35,-30,10,-35,
40,-45,25,-55,30,-20,40,-30,15,-25,65,-20,
35,-35,25,-15,35,-30,20,-25,30,-15,50,-20,
20,-30,15,-25,20,-10,25,-30,15,-20,25,-10,
15,-20,20,-15,10,-20,15,-10,20,-15,10,-5,
15,-25,10,-30,15,-10,25,-15,10,-5,15,-20,
10,-8,12,-10,8,-12,15,-8,10,-5,12,-10,
6,-8,10,-6,8,-10,5,-8,12,-6,4,-9,
8,-5,6,-8,10,-4,7,-6,5,-9,8,-5,
6,-4,5,-6,8,-3,6,-10,4,-5,9,3];

// ---------------- BUILD ----------------
const K_BINS = K_SEGMENTS.flatMap(([a,b,s]) => d3.range(a, b + 1, s));
const FREQS = K_BINS.map(k => k * DF);
const timeSeries = arr => arr.map((v, i) => ({x: i * 30 / (arr.length - 1), y: v}));
const freqSeries = arr => arr.slice(0, FREQS.length).map((v, i) => ({x: FREQS[i], y: v}));
const modelSeries = MODEL_F.map((f, i) => ({x: f, y: MODEL_V[i]}));

const SUP = {"-":"\u207B","0":"\u2070","1":"\u00B9","2":"\u00B2","3":"\u00B3"};
const fmtLog = d => "10" + String(Math.round(Math.log10(d))).split("").map(c => SUP[c]).join("");
const fmtLin = d => d < 0 ? "\u2212" + (-d) : String(d);
const decadesMinor = (lo, hi) => { const out=[]; for (let e=lo; e<hi; e++) for (let m=2; m<=9; m++) out.push(m*Math.pow(10,e)); return out; };
const FREQ_MINOR = decadesMinor(-1, 2);
const C_MINOR = decadesMinor(-3, 0);
const E_MINOR = decadesMinor(-3, 2).concat([0.1, 10]);

const ML = 110, MR = 24, MT = 20, MB = 80;
const INK = "#262626";

function panel(cfg) {
  const [fx0, fy0, fx1, fy1] = cfg.frame;
  const W = fx1 - fx0, H = fy1 - fy0;
  const el = document.getElementById(cfg.id);
  el.style.left = (fx0 - ML) + "px";
  el.style.top = (fy0 - MT) + "px";
  const marks = [];
  if (cfg.xMinor) marks.push(Plot.ruleX(cfg.xMinor, {stroke: "#d2d2d2", strokeDasharray: "1,2"}));
  if (cfg.yMinor) marks.push(Plot.ruleY(cfg.yMinor, {stroke: "#d2d2d2", strokeDasharray: "1,2"}));
  marks.push(Plot.ruleX(cfg.xTicks, {stroke: "#dfdfdf"}));
  marks.push(Plot.ruleY(cfg.yTicks, {stroke: "#dfdfdf"}));
  marks.push(...cfg.marks);
  const T = 8, t = 4;
  marks.push(Plot.ruleX(cfg.xTicks, {insetTop: H - T, stroke: INK}));
  marks.push(Plot.ruleX(cfg.xTicks, {insetBottom: H - T, stroke: INK}));
  marks.push(Plot.ruleY(cfg.yTicks, {insetRight: W - T, stroke: INK}));
  marks.push(Plot.ruleY(cfg.yTicks, {insetLeft: W - T, stroke: INK}));
  if (cfg.xMinor) {
    marks.push(Plot.ruleX(cfg.xMinor, {insetTop: H - t, stroke: INK}));
    marks.push(Plot.ruleX(cfg.xMinor, {insetBottom: H - t, stroke: INK}));
  }
  if (cfg.yMinor) {
    marks.push(Plot.ruleY(cfg.yMinor, {insetRight: W - t, stroke: INK}));
    marks.push(Plot.ruleY(cfg.yMinor, {insetLeft: W - t, stroke: INK}));
  }
  marks.push(Plot.frame({stroke: INK, strokeWidth: 1}));
  marks.push(Plot.axisX({ticks: cfg.xTicks, tickFormat: cfg.xFmt, tickSize: 0, tickPadding: cfg.xPad, label: null, fontSize: 24, fill: INK}));
  marks.push(Plot.axisY({ticks: cfg.yTicks, tickFormat: cfg.yFmt, tickSize: 0, tickPadding: 9, label: null, fontSize: 24, fill: INK}));
  marks.push(Plot.text([cfg.xLabel], {text: d => d, frameAnchor: "bottom", textAnchor: "middle", lineAnchor: "middle", dy: cfg.xLabelDy, fontSize: 25, fontFamily: "DejaVu Sans", fill: INK}));
  marks.push(Plot.text([cfg.yLabel], {text: d => d, frameAnchor: "left", textAnchor: "middle", lineAnchor: "middle", dx: cfg.yLabelDx, rotate: -90, fontSize: 25, fontFamily: "DejaVu Sans", fill: INK}));
  const svg = Plot.plot({
    width: W + ML + MR, height: H + MT + MB,
    marginLeft: ML, marginRight: MR, marginTop: MT, marginBottom: MB,
    x: {type: cfg.xType, domain: cfg.xDomain},
    y: {type: cfg.yType, domain: cfg.yDomain},
    style: {fontFamily: "'Liberation Sans', Arial, sans-serif", fontSize: "24px", color: INK, background: "transparent", overflow: "visible"},
    marks
  });
  el.appendChild(svg);
  // panel tag "(a)" etc., drawn in a white box over the data
  const g = d3.select(svg).append("g");
  const txt = g.append("text").text(cfg.tag)
    .attr("font-family", "'Liberation Sans', Arial, sans-serif").attr("font-size", 22).attr("fill", INK)
    .attr("text-anchor", "middle");
  const tw = txt.node().getComputedTextLength();
  const bw = tw + 13, bh = 42;
  const bx = ML + cfg.tagPos[0], by = MT + cfg.tagPos[1];
  g.insert("rect", "text").attr("x", bx + 0.5).attr("y", by + 0.5).attr("width", bw).attr("height", bh)
    .attr("fill", "#fff").attr("stroke", INK).attr("stroke-width", 1);
  txt.attr("x", bx + bw / 2 + 0.5).attr("y", by + bh / 2 + 8);
}

const lineOpts = c => ({x: "x", y: "y", stroke: c, strokeWidth: 1.4, clip: true});

panel({id: "pa", frame: [258, 90, 1096, 345], xType: "linear", xDomain: [0, 30], yType: "linear", yDomain: [-4, 4],
  xTicks: TIME_TICKS, yTicks: NOISE_TICKS, xFmt: fmtLin, yFmt: fmtLin, xPad: 10,
  marks: [Plot.line(timeSeries(NOISE), lineOpts("#0072BD"))],
  xLabel: "time (s)", xLabelDy: 52, yLabel: "Noise", yLabelDx: -56, tag: "(a)", tagPos: [50, 11]});

panel({id: "pb", frame: [1360, 90, 2198, 345], xType: "linear", xDomain: [0, 30], yType: "linear", yDomain: [-4, 4],
  xTicks: TIME_TICKS, yTicks: NOISE_TICKS, xFmt: fmtLin, yFmt: fmtLin, xPad: 10,
  marks: [Plot.line(timeSeries(TAPERED), lineOpts("#D95319"))],
  xLabel: "time (s)", xLabelDy: 52, yLabel: "Tapered Noise", yLabelDx: -56, tag: "(b)", tagPos: [51, 13]});

panel({id: "pc", frame: [258, 460, 1096, 713], xType: "log", xDomain: [0.1, 100], yType: "log", yDomain: [0.001, 1],
  xTicks: FREQ_TICKS, yTicks: FAS_C_TICKS, xMinor: FREQ_MINOR, yMinor: C_MINOR, xFmt: fmtLog, yFmt: fmtLog, xPad: 18,
  marks: [Plot.line(freqSeries(FAS_C), lineOpts("#EDB120"))],
  xLabel: "Freq (Hz)", xLabelDy: 61, yLabel: "Fourier Amplitude", yLabelDx: -80, tag: "(c)", tagPos: [59, 12]});

panel({id: "pd", frame: [1360, 460, 2198, 713], xType: "log", xDomain: [0.1, 100], yType: "linear", yDomain: [-4, 4],
  xTicks: FREQ_TICKS, yTicks: EPS_TICKS, xMinor: FREQ_MINOR, xFmt: fmtLog, yFmt: fmtLin, xPad: 18,
  marks: [Plot.line(freqSeries(EPS_D), lineOpts("#7E2F8E"))],
  xLabel: "Freq (Hz)", xLabelDy: 61, yLabel: "\u03F5", yLabelDx: -56, tag: "(d)", tagPos: [59, 10]});

panel({id: "pe", frame: [258, 829, 1096, 1083], xType: "log", xDomain: [0.1, 100], yType: "log", yDomain: [0.001, 100],
  xTicks: FREQ_TICKS, yTicks: FAS_E_TICKS, xMinor: FREQ_MINOR, yMinor: E_MINOR, xFmt: fmtLog, yFmt: fmtLog, xPad: 18,
  marks: [Plot.line(freqSeries(FAS_E), lineOpts("#77AC30")),
          Plot.line(modelSeries, {x: "x", y: "y", stroke: "#000", strokeWidth: 1.4, strokeDasharray: "1.5,2.5", curve: "catmull-rom", clip: true})],
  xLabel: "Freq (Hz)", xLabelDy: 59, yLabel: "FAS (cm/s)", yLabelDx: -80, tag: "(e)", tagPos: [58, 18]});

panel({id: "pf", frame: [1360, 829, 2198, 1083], xType: "linear", xDomain: [0, 30], yType: "linear", yDomain: [-250, 250],
  xTicks: TIME_TICKS, yTicks: ACC_TICKS, xFmt: fmtLin, yFmt: fmtLin, xPad: 10,
  marks: [Plot.line(timeSeries(ACCEL), lineOpts("#4DBEEE"))],
  xLabel: "time (s)", xLabelDy: 53, yLabel: "Accel (cm/s/s)", yLabelDx: -87, tag: "(f)", tagPos: [50, 14]});
</script>
</body></html>
